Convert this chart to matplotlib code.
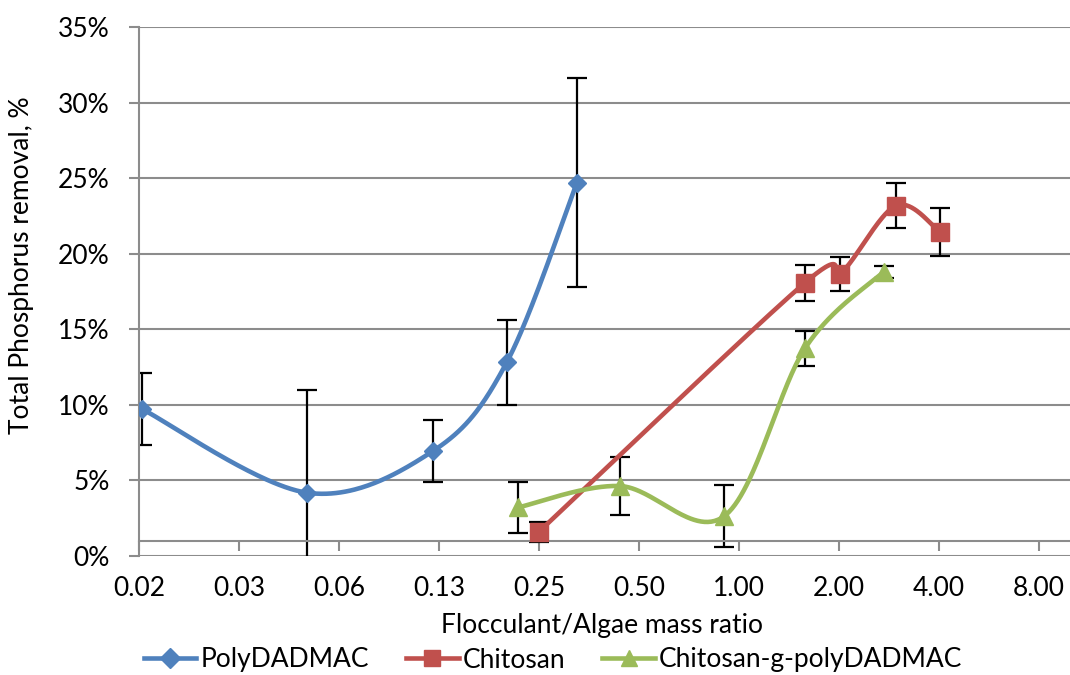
import numpy as np
import matplotlib
matplotlib.use("Agg")
import matplotlib.pyplot as plt
from matplotlib.lines import Line2D

# ---------------- data ----------------
poly_x = [0.016, 0.050, 0.12, 0.20, 0.325]
poly_y = [9.71, 4.19, 6.95, 12.82, 24.70]
poly_err = [2.38, 6.80, 2.05, 2.80, 6.92]

chit_x = [0.25, 1.58, 2.02, 2.97, 4.03]
chit_y = [1.61, 18.08, 18.68, 23.18, 21.43]
chit_err = [0.66, 1.18, 1.12, 1.49, 1.58]

graft_x = [0.216, 0.438, 0.903, 1.58, 2.73]
graft_y = [3.21, 4.63, 2.64, 13.74, 18.82]
graft_err = [1.67, 1.92, 2.06, 1.17, 0.40]

series_names = ["PolyDADMAC", "Chitosan", "Chitosan-g-polyDADMAC"]
xtick_values = [0.015625, 0.03125, 0.0625, 0.125, 0.25, 0.5, 1.0, 2.0, 4.0, 8.0]
xtick_labels = ["0.02", "0.03", "0.06", "0.13", "0.25", "0.50", "1.00", "2.00", "4.00", "8.00"]
ytick_values = [0, 5, 10, 15, 20, 25, 30, 35]
ytick_labels = ["0%", "5%", "10%", "15%", "20%", "25%", "30%", "35%"]

# ---------------- style ----------------
BLUE, RED, GREEN = "#4F81BD", "#C0504D", "#9BBB59"
GRID = "#8C8C8C"
FONT = "Lato"
FS = 19

plt.rcParams["font.family"] = [FONT, "DejaVu Sans"]

fig = plt.figure(figsize=(10.70, 6.75), dpi=100)
ax = fig.add_axes([139 / 1070, 1 - 556 / 675, 1 - 139 / 1070, (556 - 27) / 675])

ax.set_xscale("log", base=2)
ax.set_xlim(2 ** -6, 2 ** 3.31)
ax.set_ylim(0, 35)

# aspect (pixel units) for Excel-like smoothing done in screen space
px_per_log2 = ax.get_position().width * 1070 / (np.log2(2 ** 3.31) - (-6))
px_per_pct = ax.get_position().height * 675 / 35.0
aspect = px_per_pct / px_per_log2


def smooth(xs, ys, n=60):
    u = np.log2(np.asarray(xs, float))
    v = np.asarray(ys, float) * aspect
    P = np.column_stack([u, v])
    m = len(P)
    out = [P[0]]
    t = np.linspace(0, 1, n)[1:, None]
    for i in range(m - 1):
        p0 = P[i - 1] if i > 0 else P[i]
        p1 = P[i]
        p2 = P[i + 1]
        p3 = P[i + 2] if i + 2 < m else P[i + 1]
        c1 = p1 + (p2 - p0) / 6.0
        c2 = p2 - (p3 - p1) / 6.0
        B = (1 - t) ** 3 * p1 + 3 * (1 - t) ** 2 * t * c1 + 3 * (1 - t) * t ** 2 * c2 + t ** 3 * p2
        out.extend(B)
    out = np.array(out)
    return 2 ** out[:, 0], out[:, 1] / aspect


# gridlines
for yv in ytick_values:
    ax.axhline(yv, color=GRID, lw=1.5, zorder=0.5)

series = [
    (poly_x, poly_y, poly_err, BLUE, "D", 9.5),
    (chit_x, chit_y, chit_err, RED, "s", 13.5),
    (graft_x, graft_y, graft_err, GREEN, "^", 13.5),
]

for xs, ys, es, col, mk, ms in series:
    ax.errorbar(xs, ys, yerr=es, fmt="none", ecolor="black", elinewidth=1.6,
                capsize=7, capthick=1.6, zorder=2, clip_on=True)
for i, (xs, ys, es, col, mk, ms) in enumerate(series):
    sx, sy = smooth(xs, ys)
    ax.plot(sx, sy, color=col, lw=3.3, zorder=3 + i, solid_capstyle="round")
    ax.plot(xs, ys, ls="none", marker=mk, ms=ms, color=col, mec=col, zorder=3.5 + i)

# axes styling
for s in ["top", "right"]:
    ax.spines[s].set_visible(False)
ax.spines["left"].set_color(GRID)
ax.spines["left"].set_linewidth(1.5)
ax.spines["bottom"].set_color(GRID)
ax.spines["bottom"].set_linewidth(1.5)
ax.spines["bottom"].set_position(("data", 1.0))

ax.set_xticks(xtick_values)
ax.set_xticklabels(xtick_labels)
ax.xaxis.set_minor_locator(matplotlib.ticker.NullLocator())
ax.set_yticks(ytick_values)
ax.set_yticklabels(ytick_labels)

ax.tick_params(axis="x", direction="out", length=7, width=1.5, color=GRID,
               labelsize=FS, pad=18)
ax.tick_params(axis="y", direction="out", length=7, width=1.5, color=GRID,
               labelsize=FS, pad=14)

fig.text(22 / 1070, 1 - 265 / 675, "Total Phosphorus removal, %", rotation=90,
         ha="center", va="center", fontsize=FS)
fig.text(602 / 1070, 1 - 625 / 675, "Flocculant/Algae mass ratio",
         ha="center", va="center", fontsize=FS)

handles = [
    Line2D([], [], color=BLUE, lw=3.3, marker="D", ms=10),
    Line2D([], [], color=RED, lw=3.3, marker="s", ms=11.5),
    Line2D([], [], color=GREEN, lw=3.3, marker="^", ms=11.5),
]
fig.legend(handles, series_names, loc="center", bbox_to_anchor=(553 / 1070, 1 - 660 / 675),
           ncol=3, frameon=False, fontsize=FS, handlelength=2.0, handletextpad=0.15,
           columnspacing=1.4, borderaxespad=0)

fig.savefig("out.png", dpi=100)
